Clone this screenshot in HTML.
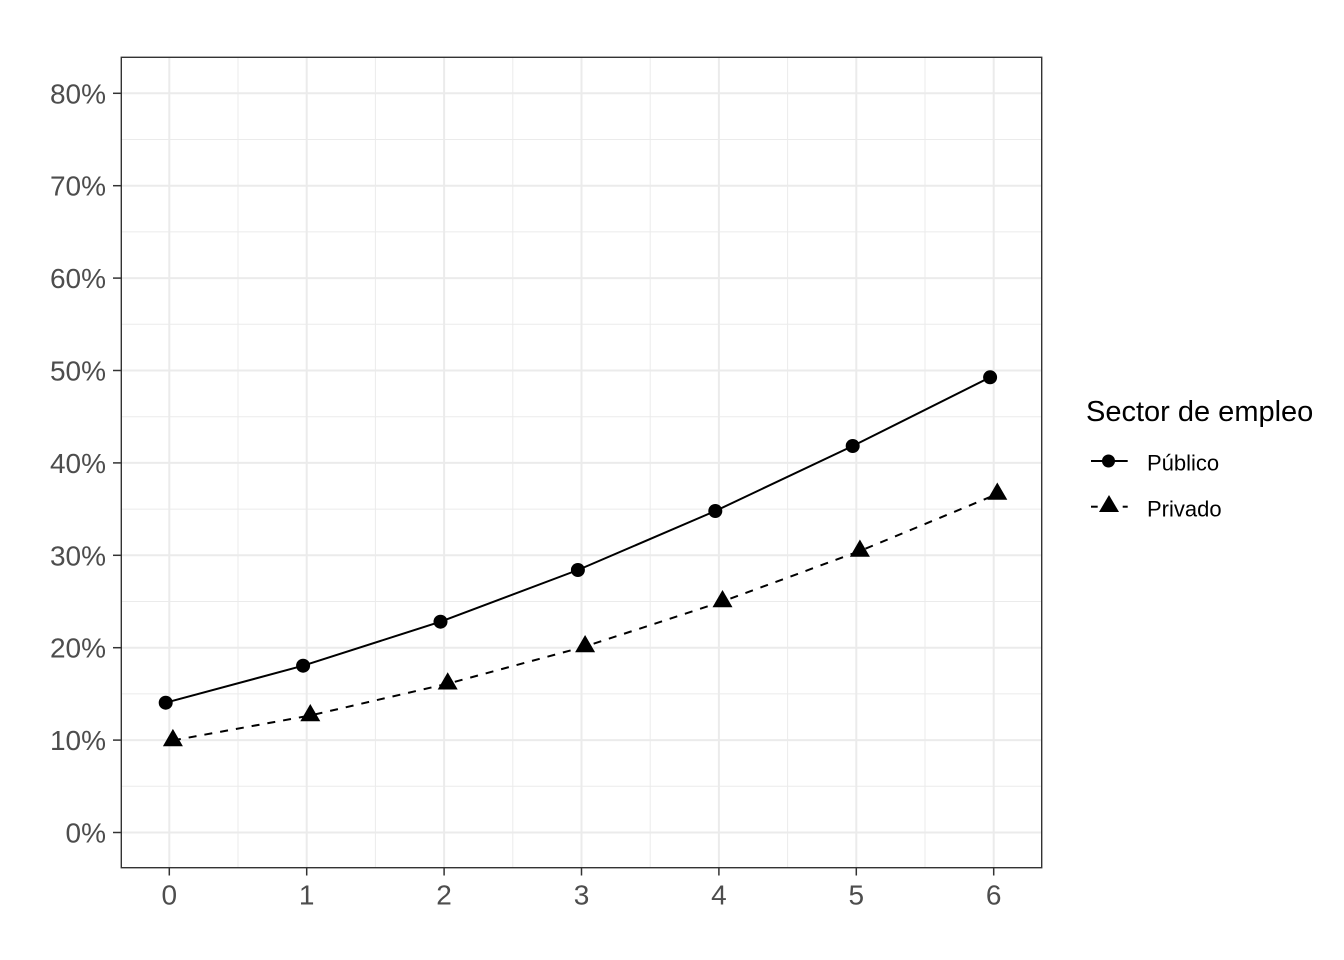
<!DOCTYPE html>
<html>
<head>
<meta charset="utf-8">
<style>
  html, body { margin: 0; padding: 0; background: #ffffff; }
  svg { display: block; }
  text { font-family: "Liberation Sans", Arial, sans-serif; }
</style>
</head>
<body>
<svg width="1344" height="960" viewBox="0 0 1344 960" xmlns="http://www.w3.org/2000/svg">
  <rect x="0" y="0" width="1344" height="960" fill="#ffffff"/>

  <!-- minor grid -->
  <g stroke="#EBEBEB" stroke-width="1" fill="none">
    <line x1="121.3" x2="1041.7" y1="786.3" y2="786.3"/>
    <line x1="121.3" x2="1041.7" y1="693.9" y2="693.9"/>
    <line x1="121.3" x2="1041.7" y1="601.5" y2="601.5"/>
    <line x1="121.3" x2="1041.7" y1="509.1" y2="509.1"/>
    <line x1="121.3" x2="1041.7" y1="416.7" y2="416.7"/>
    <line x1="121.3" x2="1041.7" y1="324.3" y2="324.3"/>
    <line x1="121.3" x2="1041.7" y1="231.9" y2="231.9"/>
    <line x1="121.3" x2="1041.7" y1="139.5" y2="139.5"/>
    <line y1="57.3" y2="867.7" x1="238" x2="238"/>
    <line y1="57.3" y2="867.7" x1="375.4" x2="375.4"/>
    <line y1="57.3" y2="867.7" x1="512.8" x2="512.8"/>
    <line y1="57.3" y2="867.7" x1="650.2" x2="650.2"/>
    <line y1="57.3" y2="867.7" x1="787.6" x2="787.6"/>
    <line y1="57.3" y2="867.7" x1="925" x2="925"/>
  </g>
  <!-- major grid -->
  <g stroke="#EBEBEB" stroke-width="2" fill="none">
    <line x1="121.3" x2="1041.7" y1="832.5" y2="832.5"/>
    <line x1="121.3" x2="1041.7" y1="740.1" y2="740.1"/>
    <line x1="121.3" x2="1041.7" y1="647.7" y2="647.7"/>
    <line x1="121.3" x2="1041.7" y1="555.3" y2="555.3"/>
    <line x1="121.3" x2="1041.7" y1="462.9" y2="462.9"/>
    <line x1="121.3" x2="1041.7" y1="370.5" y2="370.5"/>
    <line x1="121.3" x2="1041.7" y1="278.1" y2="278.1"/>
    <line x1="121.3" x2="1041.7" y1="185.7" y2="185.7"/>
    <line x1="121.3" x2="1041.7" y1="93.3" y2="93.3"/>
    <line y1="57.3" y2="867.7" x1="169.3" x2="169.3"/>
    <line y1="57.3" y2="867.7" x1="306.7" x2="306.7"/>
    <line y1="57.3" y2="867.7" x1="444.1" x2="444.1"/>
    <line y1="57.3" y2="867.7" x1="581.5" x2="581.5"/>
    <line y1="57.3" y2="867.7" x1="718.9" x2="718.9"/>
    <line y1="57.3" y2="867.7" x1="856.3" x2="856.3"/>
    <line y1="57.3" y2="867.7" x1="993.7" x2="993.7"/>
  </g>

  <!-- Público line -->
  <polyline fill="none" stroke="#000" stroke-width="2" stroke-linejoin="round"
    points="165.7,702.7 303.1,665.7 440.5,621.7 577.9,570 715.3,511 852.7,446 990.1,377.3"/>
  <!-- Privado line -->
  <polyline fill="none" stroke="#000" stroke-width="2" stroke-dasharray="8 8"
    points="172.9,740.4 310.3,715.5 447.7,683.7 585.1,646.5 722.5,601.5 859.9,551 997.3,494"/>

  <!-- Público points -->
  <g fill="#000">
    <circle cx="165.7" cy="702.7" r="7"/>
    <circle cx="303.1" cy="665.7" r="7"/>
    <circle cx="440.5" cy="621.7" r="7"/>
    <circle cx="577.9" cy="570" r="7"/>
    <circle cx="715.3" cy="511" r="7"/>
    <circle cx="852.7" cy="446" r="7"/>
    <circle cx="990.1" cy="377.3" r="7"/>
  </g>
  <!-- Privado points -->
  <g fill="#000">
    <polygon points="172.9,728.9 182.9,746.2 162.9,746.2"/>
    <polygon points="310.3,704 320.3,721.3 300.3,721.3"/>
    <polygon points="447.7,672.2 457.7,689.5 437.7,689.5"/>
    <polygon points="585.1,635 595.1,652.3 575.1,652.3"/>
    <polygon points="722.5,590 732.5,607.3 712.5,607.3"/>
    <polygon points="859.9,539.5 869.9,556.8 849.9,556.8"/>
    <polygon points="997.3,482.5 1007.3,499.8 987.3,499.8"/>
  </g>

  <!-- panel border -->
  <rect x="121.3" y="57.3" width="920.4" height="810.4" fill="none" stroke="#333333" stroke-width="1.4"/>

  <!-- ticks -->
  <g stroke="#333333" stroke-width="1.5">
    <line x1="113" x2="121.3" y1="832.5" y2="832.5"/>
    <line x1="113" x2="121.3" y1="740.1" y2="740.1"/>
    <line x1="113" x2="121.3" y1="647.7" y2="647.7"/>
    <line x1="113" x2="121.3" y1="555.3" y2="555.3"/>
    <line x1="113" x2="121.3" y1="462.9" y2="462.9"/>
    <line x1="113" x2="121.3" y1="370.5" y2="370.5"/>
    <line x1="113" x2="121.3" y1="278.1" y2="278.1"/>
    <line x1="113" x2="121.3" y1="185.7" y2="185.7"/>
    <line x1="113" x2="121.3" y1="93.3" y2="93.3"/>
    <line y1="867.7" y2="875.5" x1="169.3" x2="169.3"/>
    <line y1="867.7" y2="875.5" x1="306.7" x2="306.7"/>
    <line y1="867.7" y2="875.5" x1="444.1" x2="444.1"/>
    <line y1="867.7" y2="875.5" x1="581.5" x2="581.5"/>
    <line y1="867.7" y2="875.5" x1="718.9" x2="718.9"/>
    <line y1="867.7" y2="875.5" x1="856.3" x2="856.3"/>
    <line y1="867.7" y2="875.5" x1="993.7" x2="993.7"/>
  </g>

  <!-- y labels -->
  <g fill="#4D4D4D" font-size="28" text-anchor="end">
    <text x="106" y="842.5">0%</text>
    <text x="106" y="750.1">10%</text>
    <text x="106" y="657.7">20%</text>
    <text x="106" y="565.3">30%</text>
    <text x="106" y="472.9">40%</text>
    <text x="106" y="380.5">50%</text>
    <text x="106" y="288.1">60%</text>
    <text x="106" y="195.7">70%</text>
    <text x="106" y="103.3">80%</text>
  </g>
  <!-- x labels -->
  <g fill="#4D4D4D" font-size="28" text-anchor="middle">
    <text x="169.3" y="904.5">0</text>
    <text x="306.7" y="904.5">1</text>
    <text x="444.1" y="904.5">2</text>
    <text x="581.5" y="904.5">3</text>
    <text x="718.9" y="904.5">4</text>
    <text x="856.3" y="904.5">5</text>
    <text x="993.7" y="904.5">6</text>
  </g>

  <!-- legend -->
  <text x="1086" y="421" font-size="29" fill="#000">Sector de empleo</text>
  <line x1="1091" x2="1127.7" y1="461" y2="461" stroke="#000" stroke-width="2"/>
  <circle cx="1108.5" cy="461" r="6.5"/>
  <text x="1147" y="470.5" font-size="22" fill="#000">Público</text>

  <line x1="1091" x2="1097.7" y1="506.7" y2="506.7" stroke="#000" stroke-width="2"/>
  <line x1="1122.7" x2="1127.7" y1="506.7" y2="506.7" stroke="#000" stroke-width="2"/>
  <polygon points="1109,495 1119,512 1099,512" fill="#000"/>
  <text x="1147" y="516.5" font-size="22" fill="#000">Privado</text>
</svg>
</body>
</html>
